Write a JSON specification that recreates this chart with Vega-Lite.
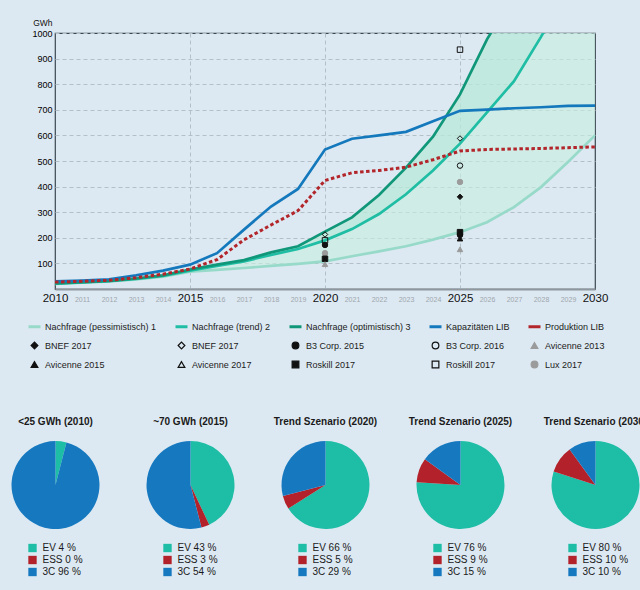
{
  "$schema": "https://vega.github.io/schema/vega-lite/v6.json",
  "background": "#dde9f2",
  "padding": {"left": 11, "top": 17, "right": 0, "bottom": 15},
  "config": {
    "font": "Liberation Sans",
    "view": {"stroke": null},
    "axisY": {
      "titleAngle": 0,
      "titleAlign": "right",
      "titleBaseline": "alphabetic",
      "titleX": -3,
      "titleY": -8,
      "titleFontSize": 8.5,
      "titleFontWeight": "normal",
      "titleColor": "#111111",
      "ticks": false,
      "domain": false,
      "labelOverlap": false,
      "labelFontSize": 9,
      "labelColor": "#000000",
      "labelPadding": 3,
      "grid": true,
      "gridDash": [4, 3],
      "gridColor": "#b3c0c9"
    }
  },
  "datasets": {
    "jahre": [
      {"Jahr": 2010, "pess": 20, "trend": 21, "opt": 22, "kap": 30, "prod": 27},
      {"Jahr": 2011, "pess": 25, "trend": 26, "opt": 27, "kap": 33, "prod": 30},
      {"Jahr": 2012, "pess": 30, "trend": 31, "opt": 32, "kap": 38, "prod": 34},
      {"Jahr": 2013, "pess": 37, "trend": 39, "opt": 41, "kap": 53, "prod": 44},
      {"Jahr": 2014, "pess": 48, "trend": 51, "opt": 53, "kap": 72, "prod": 58},
      {"Jahr": 2015, "pess": 68, "trend": 72, "opt": 76, "kap": 95, "prod": 78},
      {"Jahr": 2016, "pess": 75, "trend": 90, "opt": 95, "kap": 140, "prod": 115},
      {"Jahr": 2017, "pess": 82, "trend": 108, "opt": 113, "kap": 232, "prod": 192},
      {"Jahr": 2018, "pess": 90, "trend": 133, "opt": 143, "kap": 322, "prod": 250},
      {"Jahr": 2019, "pess": 98, "trend": 156, "opt": 167, "kap": 391, "prod": 306},
      {"Jahr": 2020, "pess": 108, "trend": 190, "opt": 224, "kap": 545, "prod": 424},
      {"Jahr": 2021, "pess": 128, "trend": 234, "opt": 280, "kap": 587, "prod": 454},
      {"Jahr": 2022, "pess": 147, "trend": 293, "opt": 367, "kap": 600, "prod": 463},
      {"Jahr": 2023, "pess": 167, "trend": 370, "opt": 474, "kap": 614, "prod": 476},
      {"Jahr": 2024, "pess": 193, "trend": 463, "opt": 595, "kap": 655, "prod": 505},
      {"Jahr": 2025, "pess": 222, "trend": 568, "opt": 760, "kap": 696, "prod": 539},
      {"Jahr": 2026, "pess": 261, "trend": 690, "opt": 975, "kap": 701, "prod": 545},
      {"Jahr": 2027, "pess": 320, "trend": 812, "opt": 1150, "kap": 706, "prod": 547},
      {"Jahr": 2028, "pess": 398, "trend": 985, "opt": 1340, "kap": 710, "prod": 549},
      {"Jahr": 2029, "pess": 496, "trend": 1170, "opt": 1550, "kap": 715, "prod": 552},
      {"Jahr": 2030, "pess": 600, "trend": 1380, "opt": 1780, "kap": 716, "prod": 555}
    ],
    "punkte": [
      {"Jahr": 2020, "Reihe": "bnef_o", "GWh": 213},
      {"Jahr": 2020, "Reihe": "rosk_o", "GWh": 190},
      {"Jahr": 2020, "Reihe": "b3_15", "GWh": 172},
      {"Jahr": 2020, "Reihe": "lux", "GWh": 140},
      {"Jahr": 2020, "Reihe": "rosk_f", "GWh": 118},
      {"Jahr": 2020, "Reihe": "avi13", "GWh": 97},
      {"Jahr": 2025, "Reihe": "rosk_o", "GWh": 935},
      {"Jahr": 2025, "Reihe": "bnef_o", "GWh": 588},
      {"Jahr": 2025, "Reihe": "b3_16", "GWh": 482},
      {"Jahr": 2025, "Reihe": "lux", "GWh": 418},
      {"Jahr": 2025, "Reihe": "bnef_f", "GWh": 360},
      {"Jahr": 2025, "Reihe": "rosk_f", "GWh": 222},
      {"Jahr": 2025, "Reihe": "b3_15", "GWh": 211},
      {"Jahr": 2025, "Reihe": "avi15", "GWh": 197},
      {"Jahr": 2025, "Reihe": "avi13", "GWh": 155}
    ],
    "kreise": [
      {"Jahr": 2010, "Sektor": "EV", "Anteil": 4, "Beschriftung": "EV 4 %", "Titel": "<25 GWh (2010)"},
      {"Jahr": 2010, "Sektor": "ESS", "Anteil": 0, "Beschriftung": "ESS 0 %", "Titel": "<25 GWh (2010)"},
      {"Jahr": 2010, "Sektor": "3C", "Anteil": 96, "Beschriftung": "3C 96 %", "Titel": "<25 GWh (2010)"},
      {"Jahr": 2015, "Sektor": "EV", "Anteil": 43, "Beschriftung": "EV 43 %", "Titel": "~70 GWh (2015)"},
      {"Jahr": 2015, "Sektor": "ESS", "Anteil": 3, "Beschriftung": "ESS 3 %", "Titel": "~70 GWh (2015)"},
      {"Jahr": 2015, "Sektor": "3C", "Anteil": 54, "Beschriftung": "3C 54 %", "Titel": "~70 GWh (2015)"},
      {"Jahr": 2020, "Sektor": "EV", "Anteil": 66, "Beschriftung": "EV 66 %", "Titel": "Trend Szenario (2020)"},
      {"Jahr": 2020, "Sektor": "ESS", "Anteil": 5, "Beschriftung": "ESS 5 %", "Titel": "Trend Szenario (2020)"},
      {"Jahr": 2020, "Sektor": "3C", "Anteil": 29, "Beschriftung": "3C 29 %", "Titel": "Trend Szenario (2020)"},
      {"Jahr": 2025, "Sektor": "EV", "Anteil": 76, "Beschriftung": "EV 76 %", "Titel": "Trend Szenario (2025)"},
      {"Jahr": 2025, "Sektor": "ESS", "Anteil": 9, "Beschriftung": "ESS 9 %", "Titel": "Trend Szenario (2025)"},
      {"Jahr": 2025, "Sektor": "3C", "Anteil": 15, "Beschriftung": "3C 15 %", "Titel": "Trend Szenario (2025)"},
      {"Jahr": 2030, "Sektor": "EV", "Anteil": 80, "Beschriftung": "EV 80 %", "Titel": "Trend Szenario (2030)"},
      {"Jahr": 2030, "Sektor": "ESS", "Anteil": 10, "Beschriftung": "ESS 10 %", "Titel": "Trend Szenario (2030)"},
      {"Jahr": 2030, "Sektor": "3C", "Anteil": 10, "Beschriftung": "3C 10 %", "Titel": "Trend Szenario (2030)"}
    ]
  },
  "bounds": "flush",
  "spacing": 134,
  "vconcat": [
    {
      "width": 540,
      "height": 256,
      "view": {"stroke": "#3a4650", "strokeWidth": 1.2},
      "encoding": {
        "x": {
          "field": "Jahr",
          "type": "quantitative",
          "scale": {"domain": [2010, 2030], "nice": false, "zero": false},
          "axis": {
            "title": null,
            "values": [2010, 2011, 2012, 2013, 2014, 2015, 2016, 2017, 2018, 2019, 2020, 2021, 2022, 2023, 2024, 2025, 2026, 2027, 2028, 2029, 2030],
            "format": "d",
            "ticks": false,
            "domainColor": "#8e979d",
            "domainWidth": 2,
            "labelFontSize": {"condition": {"test": "datum.value % 5 === 0", "value": 11.5}, "value": 7},
            "labelColor": {"condition": {"test": "datum.value % 5 === 0", "value": "#111111"}, "value": "#9ea7ad"},
            "labelBaseline": "alphabetic",
            "labelPadding": 12,
            "labelOverlap": false,
            "labelFlush": false,
            "labelBound": false,
            "grid": true,
            "gridDash": [4, 3],
            "gridColor": "#b3c0c9",
            "gridOpacity": {"condition": {"test": "datum.value === 2015 || datum.value === 2020 || datum.value === 2025", "value": 1}, "value": 0}
          }
        }
      },
      "layer": [
        {
          "data": {"name": "jahre"},
          "mark": {"type": "area", "clip": true, "color": "#c6efe0", "opacity": 0.6},
          "encoding": {
            "y": {
              "field": "pess", "type": "quantitative", "title": "GWh",
              "scale": {"domain": [0, 1000], "nice": false},
              "axis": {"values": [100, 200, 300, 400, 500, 600, 700, 800, 900, 1000], "format": "d", "labelOverlap": false}
            },
            "y2": {"field": "opt"}
          }
        },
        {
          "data": {"name": "jahre"},
          "mark": {"type": "area", "clip": true, "color": "#a9e4d2", "opacity": 0.35},
          "encoding": {
            "y": {
              "field": "trend", "type": "quantitative", "title": "GWh",
              "axis": {"values": [100, 200, 300, 400, 500, 600, 700, 800, 900, 1000], "format": "d", "labelOverlap": false}
            },
            "y2": {"field": "opt"}
          }
        },
        {
          "data": {"name": "jahre"},
          "transform": [{"fold": ["pess", "trend", "opt", "kap"], "as": ["Reihe", "GWh"]}],
          "mark": {"type": "line", "clip": true, "strokeWidth": 2.7},
          "encoding": {
            "y": {
              "field": "GWh", "type": "quantitative", "title": "GWh",
              "axis": {"values": [100, 200, 300, 400, 500, 600, 700, 800, 900, 1000], "format": "d", "labelOverlap": false}
            },
            "stroke": {
              "field": "Reihe",
              "type": "nominal",
              "scale": {
                "domain": ["pess", "trend", "opt", "kap", "prod", "bnef_f", "bnef_o", "b3_15", "b3_16", "avi13", "avi15", "avi17", "rosk_f", "rosk_o", "lux"],
                "range": ["#98dac9", "#1fbea4", "#10977a", "#1479bc", "#b2262b", "#111111", "#111111", "#111111", "#111111", "#9b9b9b", "#111111", "#111111", "#111111", "#111111", "#9b9b9b"]
              },
              "legend": {
                "title": null,
                "orient": "none",
                "direction": "horizontal",
                "legendX": -25,
                "legendY": 289,
                "columns": 5,
                "columnPadding": 12,
                "rowPadding": 6,
                "padding": 0,
                "symbolSize": 144,
                "symbolStrokeWidth": 1.2,
                "labelFontSize": 9,
                "labelColor": "#1b1b1b",
                "labelOffset": 6,
                "labelLimit": 220,
                "labelExpr": "{'pess': 'Nachfrage (pessimistisch) 1', 'trend': 'Nachfrage (trend) 2', 'opt': 'Nachfrage (optimistisch) 3', 'kap': 'Kapazitäten LIB', 'prod': 'Produktion LIB', 'bnef_f': 'BNEF 2017', 'bnef_o': 'BNEF 2017', 'b3_15': 'B3 Corp. 2015', 'b3_16': 'B3 Corp. 2016', 'avi13': 'Avicenne 2013', 'avi15': 'Avicenne 2015', 'avi17': 'Avicenne 2017', 'rosk_f': 'Roskill 2017', 'rosk_o': 'Roskill 2017', 'lux': 'Lux 2017'}[datum.value]",
                "encode": {
                  "symbols": {
                    "update": {
                      "strokeWidth": {"signal": "indexof(['pess','trend','opt','kap','prod'], datum.value) >= 0 ? 3 : 1.2"},
                      "size": {"signal": "indexof(['pess','trend','opt','kap','prod'], datum.value) >= 0 ? 144 : 45"}
                    }
                  }
                }
              }
            }
          }
        },
        {
          "data": {"name": "jahre"},
          "transform": [{"fold": ["prod"], "as": ["Reihe", "GWh"]}],
          "mark": {"type": "line", "clip": true, "strokeWidth": 3, "strokeDash": [3.5, 2.5]},
          "encoding": {
            "y": {
              "field": "GWh", "type": "quantitative", "title": "GWh",
              "axis": {"values": [100, 200, 300, 400, 500, 600, 700, 800, 900, 1000], "format": "d", "labelOverlap": false}
            },
            "stroke": {"field": "Reihe", "type": "nominal"}
          }
        },
        {
          "data": {"name": "punkte"},
          "mark": {"type": "point", "size": 30, "opacity": 1, "strokeWidth": 1},
          "encoding": {
            "y": {
              "field": "GWh", "type": "quantitative", "title": "GWh",
              "axis": {"values": [100, 200, 300, 400, 500, 600, 700, 800, 900, 1000], "format": "d", "labelOverlap": false}
            },
            "stroke": {"field": "Reihe", "type": "nominal"},
            "fill": {
              "field": "Reihe",
              "type": "nominal",
              "scale": {
                "domain": ["pess", "trend", "opt", "kap", "prod", "bnef_f", "bnef_o", "b3_15", "b3_16", "avi13", "avi15", "avi17", "rosk_f", "rosk_o", "lux"],
                "range": ["transparent", "transparent", "transparent", "transparent", "transparent", "#111111", "transparent", "#111111", "transparent", "#9b9b9b", "#111111", "transparent", "#111111", "transparent", "#9b9b9b"]
              },
              "legend": {
                "title": null,
                "orient": "none",
                "direction": "horizontal",
                "legendX": -25,
                "legendY": 289,
                "columns": 5,
                "columnPadding": 12,
                "rowPadding": 6,
                "padding": 0,
                "symbolSize": 144,
                "symbolStrokeWidth": 1.2,
                "labelFontSize": 9,
                "labelColor": "#1b1b1b",
                "labelOffset": 6,
                "labelLimit": 220
              }
            },
            "shape": {
              "field": "Reihe",
              "type": "nominal",
              "scale": {
                "domain": ["pess", "trend", "opt", "kap", "prod", "bnef_f", "bnef_o", "b3_15", "b3_16", "avi13", "avi15", "avi17", "rosk_f", "rosk_o", "lux"],
                "range": ["stroke", "stroke", "stroke", "stroke", "stroke", "diamond", "diamond", "circle", "circle", "triangle-up", "triangle-up", "triangle-up", "square", "square", "circle"]
              },
              "legend": {
                "title": null,
                "orient": "none",
                "direction": "horizontal",
                "legendX": -25,
                "legendY": 289,
                "columns": 5,
                "columnPadding": 12,
                "rowPadding": 6,
                "padding": 0,
                "symbolSize": 144,
                "symbolStrokeWidth": 1.2,
                "labelFontSize": 9,
                "labelColor": "#1b1b1b",
                "labelOffset": 6,
                "labelLimit": 220
              }
            }
          }
        }
      ]
    },
    {
      "data": {"name": "kreise"},
      "facet": {
        "column": {"field": "Jahr", "type": "ordinal", "header": null}
      },
      "spacing": 134,
      "bounds": "flush",
      "spec": {
        "width": 1,
        "height": 124,
        "layer": [
          {
            "mark": {"type": "arc", "outerRadius": 44},
            "encoding": {
              "theta": {"field": "Anteil", "type": "quantitative"},
              "order": {"field": "Sektor", "sort": "descending"},
              "color": {
                "field": "Sektor",
                "type": "nominal",
                "scale": {"domain": ["EV", "ESS", "3C"], "range": ["#1dbda6", "#b3222a", "#1679c0"]},
                "legend": null
              }
            }
          },
          {
            "transform": [{"filter": "datum.Sektor === 'EV'"}],
            "mark": {"type": "text", "dy": -63, "fontSize": 10, "fontWeight": "bold", "color": "#1a1a1a"},
            "encoding": {"text": {"field": "Titel"}}
          },
          {
            "transform": [{"filter": "datum.Sektor === 'EV'"}],
            "mark": {"type": "point", "shape": "square", "filled": true, "size": 70, "opacity": 1, "xOffset": -23, "yOffset": 63},
            "encoding": {"color": {"field": "Sektor", "type": "nominal", "legend": null}}
          },
          {
            "transform": [{"filter": "datum.Sektor === 'ESS'"}],
            "mark": {"type": "point", "shape": "square", "filled": true, "size": 70, "opacity": 1, "xOffset": -23, "yOffset": 75},
            "encoding": {"color": {"field": "Sektor", "type": "nominal", "legend": null}}
          },
          {
            "transform": [{"filter": "datum.Sektor === '3C'"}],
            "mark": {"type": "point", "shape": "square", "filled": true, "size": 70, "opacity": 1, "xOffset": -23, "yOffset": 87},
            "encoding": {"color": {"field": "Sektor", "type": "nominal", "legend": null}}
          },
          {
            "transform": [{"filter": "datum.Sektor === 'EV'"}],
            "mark": {"type": "text", "align": "left", "baseline": "middle", "dx": -13, "dy": 63, "fontSize": 10, "color": "#1a1a1a"},
            "encoding": {"text": {"field": "Beschriftung"}}
          },
          {
            "transform": [{"filter": "datum.Sektor === 'ESS'"}],
            "mark": {"type": "text", "align": "left", "baseline": "middle", "dx": -13, "dy": 75, "fontSize": 10, "color": "#1a1a1a"},
            "encoding": {"text": {"field": "Beschriftung"}}
          },
          {
            "transform": [{"filter": "datum.Sektor === '3C'"}],
            "mark": {"type": "text", "align": "left", "baseline": "middle", "dx": -13, "dy": 87, "fontSize": 10, "color": "#1a1a1a"},
            "encoding": {"text": {"field": "Beschriftung"}}
          }
        ]
      }
    }
  ]
}
